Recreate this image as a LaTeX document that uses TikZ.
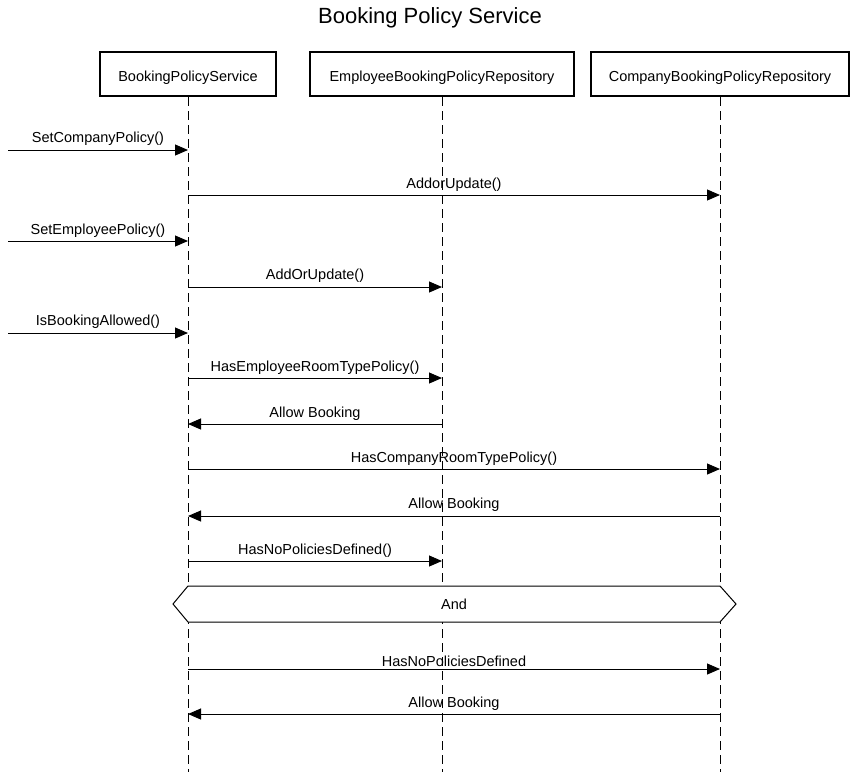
\documentclass[tikz,border=0pt]{standalone}
\usepackage{fontspec}
\setmainfont{Liberation Sans}
\usetikzlibrary{arrows.meta}
\begin{document}
\begin{tikzpicture}[x=1pt,y=-1pt,
  actor/.style={draw,line width=2pt,minimum height=44pt,inner sep=0pt,text height=14pt,text depth=0pt,font=\fontsize{14.5}{17}\selectfont},
  lifeline/.style={line width=1pt,dash pattern=on 9pt off 5pt},
  msg/.style={line width=1pt,-{Triangle[length=13pt,width=11pt]}},
  lbl/.style={font=\fontsize{14.5}{17}\selectfont,inner sep=0pt}]
\useasboundingbox (0,0) rectangle (858,772);
\node[font=\fontsize{22}{26}\selectfont] (title) at (430,18) {Booking Policy Service};
\node[actor,minimum width=176pt] (a1) at (188,74) {BookingPolicyService};
\node[actor,minimum width=264pt] (a2) at (442,74) {EmployeeBookingPolicyRepository};
\node[actor,minimum width=258pt] (a3) at (720,74) {CompanyBookingPolicyRepository};
\coordinate (e1) at (188,772);
\coordinate (e2) at (442,772);
\coordinate (e3) at (720,772);
\draw[lifeline] (a1.south) -- (e1);
\draw[lifeline] (a2.south) -- (e2);
\draw[lifeline] (a3.south) -- (e3);
% hexagon
\coordinate (hl) at (173,604);
\coordinate (hr) at (736,604);
\coordinate (htl) at (188,586);
\coordinate (hbl) at (188,622);
\coordinate (htr) at (720,586);
\coordinate (hbr) at (720,622);
\filldraw[fill=white,line width=1pt] (htl) -- (htr) -- (hr) -- (hbr) -- (hbl) -- (hl) -- cycle;
\node[lbl] (and) at (454,604) {And};
% message endpoints
\coordinate (s1) at (8,150);   \coordinate (t1) at (188,150);
\coordinate (s2) at (188,195); \coordinate (t2) at (720,195);
\coordinate (s3) at (8,241);   \coordinate (t3) at (188,241);
\coordinate (s4) at (188,287); \coordinate (t4) at (442,287);
\coordinate (s5) at (8,333);   \coordinate (t5) at (188,333);
\coordinate (s6) at (188,378); \coordinate (t6) at (442,378);
\coordinate (s7) at (442,424); \coordinate (t7) at (188,424);
\coordinate (s8) at (188,469); \coordinate (t8) at (720,469);
\coordinate (s9) at (720,516); \coordinate (t9) at (188,516);
\coordinate (s10) at (188,561); \coordinate (t10) at (442,561);
\coordinate (s12) at (188,669); \coordinate (t12) at (720,669);
\coordinate (s13) at (720,714); \coordinate (t13) at (188,714);
\draw[msg] (s1) -- node[lbl,above=4pt] {SetCompanyPolicy()} (t1);
\draw[msg] (s2) -- node[lbl,above=3pt] {AddorUpdate()} (t2);
\draw[msg] (s3) -- node[lbl,above=3pt] {SetEmployeePolicy()} (t3);
\draw[msg] (s4) -- node[lbl,above=4pt] {AddOrUpdate()} (t4);
\draw[msg] (s5) -- node[lbl,above=4pt] {IsBookingAllowed()} (t5);
\draw[msg] (s6) -- node[lbl,above=3pt] {HasEmployeeRoomTypePolicy()} (t6);
\draw[msg] (s7) -- node[lbl,above=3pt] {Allow Booking} (t7);
\draw[msg] (s8) -- node[lbl,above=3pt] {HasCompanyRoomTypePolicy()} (t8);
\draw[msg] (s9) -- node[lbl,above=4pt] {Allow Booking} (t9);
\draw[msg] (s10) -- node[lbl,above=3pt] {HasNoPoliciesDefined()} (t10);
\draw[msg] (s12) -- node[lbl,above=2pt] {HasNoPoliciesDefined} (t12);
\draw[msg] (s13) -- node[lbl,above=3pt] {Allow Booking} (t13);
\end{tikzpicture}
\end{document}
